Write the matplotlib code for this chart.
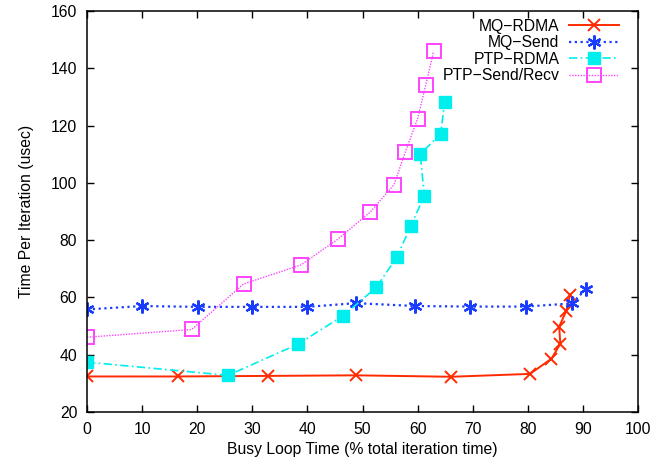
import matplotlib
matplotlib.use("Agg")
import matplotlib.pyplot as plt

# values
mq_rdma_x = [0, 16.5, 32.9, 48.9, 66.1, 80.4, 84.3, 85.9, 85.7, 87.0, 87.7]
mq_rdma_y = [32.4, 32.4, 32.6, 32.8, 32.3, 33.3, 38.6, 43.8, 49.8, 55.4, 61.0]

mq_send_x = [0, 10, 20.1, 30, 40, 48.8, 59.5, 69.6, 79.6, 88.0, 90.5]
mq_send_y = [55.8, 57.0, 56.7, 56.7, 56.7, 58.0, 57.0, 56.8, 56.8, 57.9, 62.8]

ptp_rdma_x = [0, 25.6, 38.3, 46.5, 52.5, 56.2, 58.8, 61.2, 60.5, 64.2, 64.9]
ptp_rdma_y = [37.4, 32.8, 43.7, 53.6, 63.5, 74.0, 85.0, 95.5, 110.0, 117.2, 128.2]

ptp_send_x = [0, 19.0, 28.4, 38.8, 45.5, 51.4, 55.7, 57.8, 60.0, 61.5, 62.9]
ptp_send_y = [46.1, 48.8, 64.7, 71.3, 80.3, 89.8, 99.3, 110.9, 122.4, 134.3, 145.9]

labels = ["MQ\u2212RDMA", "MQ\u2212Send", "PTP\u2212RDMA", "PTP\u2212Send/Recv"]

plt.rcParams['font.family'] = ['Liberation Sans', 'DejaVu Sans']
plt.rcParams['font.size'] = 11.3

fig = plt.figure(figsize=(6.71, 4.61), dpi=100)
ax = fig.add_axes([0.1297, 0.1063, 0.8211, 0.8699])

ax.plot(mq_rdma_x, mq_rdma_y, color="#ff2a00", linestyle="-", linewidth=1.4,
        marker="x", markersize=9, markeredgewidth=1.4, label=labels[0])
ax.plot(mq_send_x, mq_send_y, color="#1a3cff", linestyle=(0, (1, 1.6)), linewidth=1.6,
        marker=(6, 2, 0), markersize=10, markeredgewidth=1.6, label=labels[1])
ax.plot(ptp_rdma_x, ptp_rdma_y, color="#00eeee", linestyle=(0, (5, 2, 1, 2)), linewidth=1.2,
        marker="s", markersize=9, label=labels[2])
ax.plot(ptp_send_x, ptp_send_y, color="#ff44ff", linestyle=(0, (1, 1)), linewidth=1.0,
        marker="s", markersize=9.5, markerfacecolor="none", markeredgewidth=1.4,
        label=labels[3])

ax.set_xlim(0, 100)
ax.set_ylim(20, 160)
ax.set_xticks(range(0, 101, 10))
ax.set_yticks(range(20, 161, 20))
ax.tick_params(direction="in", top=True, right=True, length=5, width=1, pad=7)
for s in ax.spines.values():
    s.set_linewidth(1.1)

ax.set_xlabel("Busy Loop Time (% total iteration time)", labelpad=4)
ax.set_ylabel("Time Per Iteration (usec)", labelpad=12)

# gnuplot-style key: text on the left, sample on the right
ax.legend(loc="upper right", bbox_to_anchor=(1.0, 1.028), markerfirst=False,
          frameon=False, handlelength=3.2, labelspacing=0.1, borderaxespad=0.8,
          handletextpad=0.6)

fig.savefig("out.png", dpi=100)
